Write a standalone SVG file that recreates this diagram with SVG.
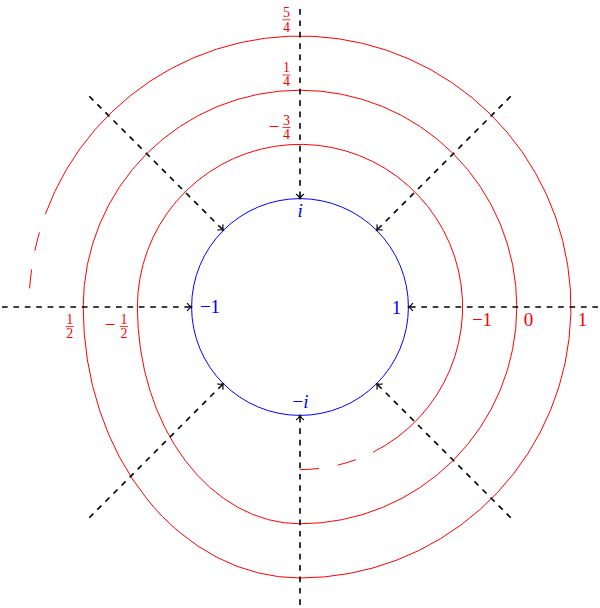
<svg xmlns="http://www.w3.org/2000/svg" width="600" height="608" viewBox="0 0 600 608">
<style>
.red{fill:none;stroke:#ff0000;stroke-width:1}
.blue{fill:none;stroke:#0000ff;stroke-width:1}
.ax{fill:none;stroke:#000;stroke-width:1.6;stroke-dasharray:5.7 5.7;marker-end:url(#arr)}
.lr{font-family:"Liberation Serif","DejaVu Serif",serif;font-size:19px;fill:#ff0000;text-anchor:middle}
.lb{font-family:"Liberation Serif","DejaVu Serif",serif;font-size:19px;fill:#0000ff;text-anchor:middle}
.fr{font-family:"Liberation Serif","DejaVu Serif",serif;font-size:14px;fill:#ff0000;text-anchor:middle}
.bar{stroke:#ff0000;stroke-width:0.8}
</style>
<defs>
<marker id="arr" markerUnits="userSpaceOnUse" orient="auto" overflow="visible" markerWidth="10" markerHeight="10" refX="0" refY="0">
<path d="M -4.5,-4 C -3,-1.6 -1.2,-0.5 0,0 C -1.2,0.5 -3,1.6 -4.5,4" fill="none" stroke="#000" stroke-width="1.2" stroke-dasharray="none"/>
</marker>
</defs>
<g id="spiral">
<path class="red" stroke-dasharray="19 19" d="M 300 469.6 A 162.6 162.6 0 0 0 373.3 452.1"/>
<path class="red" d="M 373.3 452.1 A 162.6 162.6 0 1 0 137.4 307 A 162.6 216.8 0 0 0 300 523.8 A 216.8 216.8 0 1 0 83.2 307 A 216.8 271 0 0 0 300 578 A 271 271 0 1 0 45.3 214.3"/>
<path class="red" stroke-dasharray="19 19" stroke-dashoffset="19" d="M 45.3 214.3 A 271 271 0 0 0 29.6 288.4"/>
</g>
<g id="unit-circle">
<circle class="blue" cx="300" cy="307" r="108.4"/>
</g>
<g id="connectors">
<path class="ax" d="M 2 307 L 191.6 307"/>
<path class="ax" d="M 598 307 L 408.4 307"/>
<path class="ax" d="M 300 9 L 300 198.6"/>
<path class="ax" d="M 300 605 L 300 415.4"/>
<path class="ax" d="M 89.3 96.3 L 223.4 230.4"/>
<path class="ax" d="M 510.7 96.3 L 376.6 230.4"/>
<path class="ax" d="M 89.3 517.7 L 223.4 383.6"/>
<path class="ax" d="M 510.7 517.7 L 376.6 383.6"/>
</g>
<g id="blue-labels">
<text class="lb" x="300.2" y="217" font-style="italic">i</text>
<text class="lb" x="300.5" y="408">−<tspan font-style="italic">i</tspan></text>
<text class="lb" x="210" y="313">−1</text>
<text class="lb" x="396.5" y="314">1</text>
</g>
<g id="red-labels">
<text class="lr" x="482" y="326">−1</text>
<text class="lr" x="528.6" y="326">0</text>
<text class="lr" x="582.4" y="326">1</text>
<g id="frac-5-4">
<text class="fr" x="286.5" y="17">5</text>
<line class="bar" x1="282.5" y1="19.8" x2="290.5" y2="19.8"/>
<text class="fr" x="286.5" y="31.5">4</text>
</g>
<g id="frac-1-4">
<text class="fr" x="286.5" y="72">1</text>
<line class="bar" x1="282.5" y1="75" x2="290.5" y2="75"/>
<text class="fr" x="286.5" y="85.5">4</text>
</g>
<g id="frac-m3-4">
<text class="lr" x="274" y="133">−</text>
<text class="fr" x="286.5" y="124.5">3</text>
<line class="bar" x1="282.5" y1="127.5" x2="290.5" y2="127.5"/>
<text class="fr" x="286.5" y="138.5">4</text>
</g>
<g id="frac-1-2">
<text class="fr" x="69.7" y="324">1</text>
<line class="bar" x1="65.7" y1="326.5" x2="73.7" y2="326.5"/>
<text class="fr" x="69.7" y="338">2</text>
</g>
<g id="frac-m1-2">
<text class="lr" x="110" y="331">−</text>
<text class="fr" x="124" y="324">1</text>
<line class="bar" x1="120" y1="326.5" x2="128" y2="326.5"/>
<text class="fr" x="124" y="338">2</text>
</g>
</g>
</svg>
